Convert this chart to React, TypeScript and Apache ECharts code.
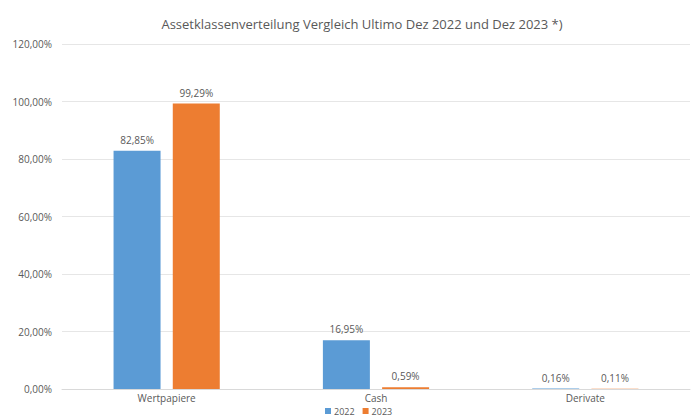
import React, { useEffect, useRef } from "react";
import * as echarts from "echarts";

const categories = ["Wertpapiere", "Cash", "Derivate"];
const values2022 = [82.85, 16.95, 0.16];
const values2023 = [99.29, 0.59, 0.11];
const yTicks = [0, 20, 40, 60, 80, 100, 120];

const fmt = (v: number) => v.toFixed(2).replace(".", ",") + "%";
const FONT = "'Open Sans', sans-serif";

export default function App() {
  const ref = useRef<HTMLDivElement>(null);
  useEffect(() => {
    const chart = echarts.init(ref.current!, null, { renderer: "svg" });
    chart.setOption({
      animation: false,
      backgroundColor: "#ffffff",
      title: {
        text: "Assetklassenverteilung Vergleich Ultimo Dez 2022 und Dez 2023 *)",
        left: 357,
        textAlign: "center",
        top: 12,
        textStyle: { fontFamily: FONT, fontSize: 13, fontWeight: "normal", color: "#595959" },
      },
      legend: {
        bottom: -3,
        left: 320,
        itemWidth: 6,
        itemHeight: 6,
        itemGap: 8,
        icon: "rect",
        textStyle: { fontFamily: FONT, fontSize: 9, lineHeight: 10, color: "#595959", padding: [0, 0, 0, -2] },
        data: ["2022", "2023"],
      },
      grid: { left: 62, right: 2, top: 44, bottom: 29 },
      xAxis: {
        type: "category",
        data: categories,
        axisTick: { show: false },
        axisLine: { lineStyle: { color: "#d9d9d9" } },
        axisLabel: { fontFamily: FONT, fontSize: 10, lineHeight: 10, color: "#595959", margin: 4 },
      },
      yAxis: {
        type: "value",
        min: yTicks[0],
        max: yTicks[yTicks.length - 1],
        interval: 20,
        axisLabel: { formatter: (v: number) => fmt(v), fontFamily: FONT, fontSize: 10, color: "#595959", margin: 10 },
        splitLine: { lineStyle: { color: "#e6e6e6" } },
        axisLine: { show: false },
        axisTick: { show: false },
      },
      series: [
        {
          name: "2022",
          type: "bar",
          data: values2022,
          itemStyle: { color: "#5B9BD5" },
          barWidth: 47,
          barGap: "26%",
          label: { show: true, position: "top", formatter: (p: any) => fmt(p.value), fontFamily: FONT, fontSize: 10, color: "#595959", distance: 6 },
        },
        {
          name: "2023",
          type: "bar",
          data: values2023,
          itemStyle: { color: "#ED7D31" },
          barWidth: 47,
          label: { show: true, position: "top", formatter: (p: any) => fmt(p.value), fontFamily: FONT, fontSize: 10, color: "#595959", distance: 6 },
        },
      ],
    });
    return () => chart.dispose();
  }, []);
  return <div ref={ref} style={{ width: 692, height: 418, position: "absolute", left: 0, top: 0 }} />;
}
